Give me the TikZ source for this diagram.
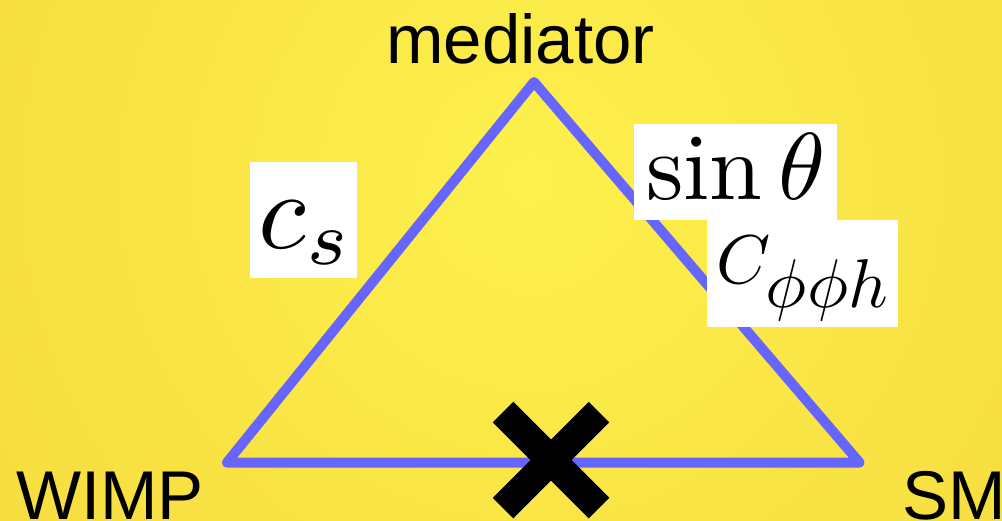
\documentclass[tikz,border=0pt]{standalone}
\usepackage{fontspec}
\newfontfamily\labelfont{Liberation Sans}
\definecolor{bgin}{RGB}{253,240,76}
\definecolor{bgout}{RGB}{238,196,48}
\definecolor{tricol}{RGB}{102,102,255}
\pgfdeclareradialshading{bgshade}{\pgfpoint{0bp}{0bp}}{color(0bp)=(bgin); color(50bp)=(bgout)}
\tikzset{
  tri/.style={draw=tricol, line width=10pt, line join=round},
  cross/.style={draw=black, line width=29pt, line cap=butt},
  whitebox/.style={fill=white, draw=none, inner sep=0pt},
  mathlabel/.style={inner sep=0pt, text=black},
  sanslabel/.style={inner sep=0pt, text=black, font=\labelfont\fontsize{69}{80}\selectfont},
}
\begin{document}
\begin{tikzpicture}[x=1pt,y=-1pt]
\useasboundingbox (0,0) rectangle (1002,520);
\begin{scope}
  \clip (0,0) rectangle (1002,520);
  \shade[shading=bgshade] (530,180) circle (720pt);
\end{scope}
% triangle vertices
\coordinate (W) at (227,462.5);
\coordinate (A) at (534,82);
\coordinate (S) at (859.5,462.5);
\draw[tri] (W) -- (A) -- (S) -- cycle;
% cross
\coordinate (x1) at (503,412);
\coordinate (x2) at (599,508);
\coordinate (x3) at (599,412);
\coordinate (x4) at (503,508);
\draw[cross] (x1) -- (x2);
\draw[cross] (x3) -- (x4);
% label boxes
\node[whitebox, minimum width=107pt, minimum height=116pt] (csbox) at (303.5,220) {};
\node[whitebox, minimum width=203pt, minimum height=96pt] (sinbox) at (735.5,172) {};
\node[whitebox, minimum width=191pt, minimum height=107pt] (cbox) at (802.5,273.5) {};
\node[mathlabel, scale=11] (cs) at (306,233) {$c_s$};
\node[mathlabel, scale=9.5] (sin) at (736,167) {$\sin\theta$};
\node[mathlabel, scale=6.9] (cphi) at (804,279) {$C_{\textstyle\phi\phi h}$};
% text labels
\node[sanslabel, anchor=base] (med) at (520.5,63) {mediator};
\node[sanslabel, anchor=base west] (wimp) at (16,519) {WIMP};
\node[sanslabel, anchor=base west] (sm) at (902,519) {SM};
\end{tikzpicture}
\end{document}
